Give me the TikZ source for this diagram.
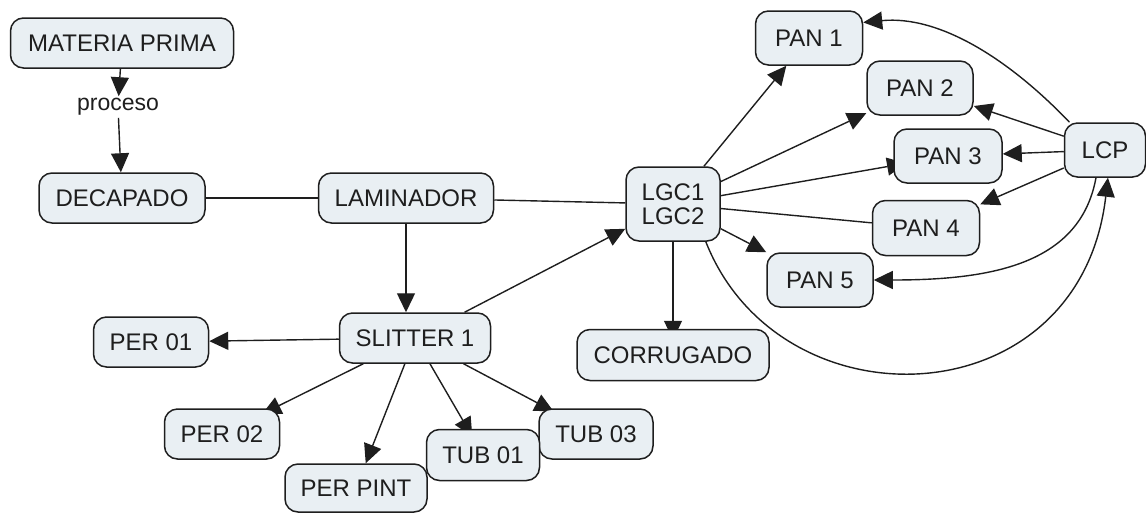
\documentclass[tikz,border=0pt]{standalone}
\usepackage{fontspec}
\setmainfont{Liberation Sans}
\usetikzlibrary{arrows.meta}
\pgfdeclarelayer{background}
\pgfsetlayers{background,main}
\definecolor{boxfill}{RGB}{233,239,243}
\definecolor{ink}{RGB}{30,30,30}

\begin{document}
\begin{tikzpicture}[x=1pt,y=-1pt,
  concept/.style={draw=ink, fill=boxfill, rounded corners=13pt, line width=1.5pt,
    inner sep=0pt, text=ink, font=\fontsize{24}{24}\selectfont, align=center},
  link/.style={draw=ink, line width=1.4pt},
  arr/.style={link, -{Triangle[length=19pt,width=18pt]}},
]
\useasboundingbox (0,0) rectangle (1146,512);

% concepts
\node[concept, minimum width=223pt, minimum height=50pt] (mp)  at (122,43)  {MATERIA PRIMA};
\node[font=\fontsize{23}{24}\selectfont, text=ink, inner sep=2pt] (proc) at (118,107) {proceso};
\node[concept, minimum width=166pt, minimum height=50pt] (dec) at (122,198) {DECAPADO};
\node[concept, minimum width=175pt, minimum height=50pt] (lam) at (406,198) {LAMINADOR};
\node[concept, minimum width=151pt, minimum height=50pt] (sl)  at (415,338) {SLITTER 1};
\node[concept, minimum width=94pt,  minimum height=74pt] (lgc) at (673,204) {LGC1\\LGC2};
\node[concept, minimum width=192pt, minimum height=51pt] (cor) at (673,355) {CORRUGADO};
\node[concept, minimum width=107pt, minimum height=54pt] (pan1) at (809,38)  {PAN 1};
\node[concept, minimum width=106pt, minimum height=54pt] (pan2) at (920,88)  {PAN 2};
\node[concept, minimum width=108pt, minimum height=54pt] (pan3) at (948,156) {PAN 3};
\node[concept, minimum width=107pt, minimum height=55pt] (pan4) at (926,228) {PAN 4};
\node[concept, minimum width=106pt, minimum height=54pt] (pan5) at (820,280) {PAN 5};
\node[concept, minimum width=81pt,  minimum height=54pt] (lcp)  at (1105,150) {LCP};
\node[concept, minimum width=115pt, minimum height=50pt] (per1) at (151,342) {PER 01};
\node[concept, minimum width=115pt, minimum height=50pt] (per2) at (222,434) {PER 02};
\node[concept, minimum width=142pt, minimum height=48pt] (perp) at (356,488) {PER PINT};
\node[concept, minimum width=114pt, minimum height=50pt] (tub3) at (596,434) {TUB 03};
\node[concept, minimum width=113pt, minimum height=51pt] (tub1) at (483,455) {TUB 01};

% connectors, behind the concepts
\begin{pgfonlayer}{background}
\draw[arr] (mp) -- (proc);
\draw[arr] (proc) -- (dec);
\draw[link] (dec) -- (lam);
\draw[link] (lam) -- (lgc);
\draw[arr] (lam.south) -- (lam.south |- sl.north);
\draw[arr] (sl) -- (lgc);
\draw[arr] (sl) -- (per1);
\draw[arr, shorten >=-13pt] (sl) -- (per2);
\draw[arr] (sl) -- (perp);
\draw[arr, shorten >=-9pt] (sl) -- (tub1);
\draw[arr, shorten >=-7pt] (sl) -- (tub3);
\draw[arr] (lgc) -- (pan1);
\draw[arr] (lgc) -- (pan2);
\draw[arr, shorten >=-13pt] (lgc) -- (pan3);
\draw[link] (lgc) -- (pan4);
\draw[arr] (lgc) -- (pan5);
\draw[arr, shorten >=-11pt] (lgc) -- (cor);
\draw[arr] (lcp) -- (pan2);
\draw[arr] (lcp) -- (pan3);
\draw[arr] (lcp) -- (pan4);
\draw[arr] (lgc.-49) .. controls (780,430) and (1080,420) .. (lcp.-84);
\draw[arr] (lcp.-108) .. controls (1080,265) and (990,280) .. (pan5.east);
\draw[arr] (lcp.142) .. controls (1010,60) and (940,15) .. (pan1.16);
\end{pgfonlayer}
\end{tikzpicture}
\end{document}
